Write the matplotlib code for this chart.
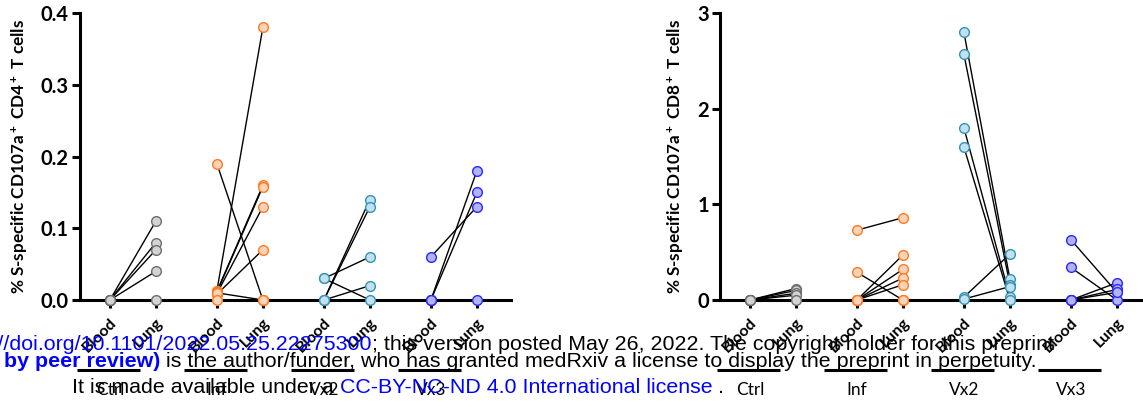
import matplotlib
matplotlib.use("Agg")
import matplotlib.pyplot as plt
from matplotlib.transforms import blended_transform_factory

plt.rcParams["font.family"] = ["Lato", "DejaVu Sans"]
plt.rcParams["mathtext.fontset"] = "custom"
plt.rcParams["mathtext.default"] = "regular"

# ---- data -------------------------------------------------------------
groups = ["Ctrl", "Inf", "Vx2", "Vx3"]
tissues = ["Blood", "Lung"]

face_colors = ["#d3d3d3", "#ffd3b8", "#c2e0f4", "#b2b2ff"]
edge_colors = ["#6e6e6e", "#ff7a22", "#3294b0", "#2828ff"]

# CD4: paired blood / lung values per animal
cd4_ctrl_blood = [0.0, 0.0, 0.0, 0.0, 0.0]
cd4_ctrl_lung = [0.11, 0.08, 0.07, 0.04, 0.0]
cd4_inf_blood = [0.19, 0.013, 0.012, 0.011, 0.009, 0.008, 0.010, 0.0]
cd4_inf_lung = [0.0, 0.38, 0.16, 0.158, 0.13, 0.07, 0.0, 0.0]
cd4_vx2_blood = [0.03, 0.03, 0.0, 0.0, 0.0]
cd4_vx2_lung = [0.06, 0.0, 0.14, 0.13, 0.02]
cd4_vx3_blood = [0.06, 0.0, 0.0, 0.0]
cd4_vx3_lung = [0.13, 0.18, 0.15, 0.0]

# CD8: paired blood / lung values per animal
cd8_ctrl_blood = [0.0, 0.0, 0.0, 0.0, 0.0]
cd8_ctrl_lung = [0.12, 0.10, 0.07, 0.05, 0.0]
cd8_inf_blood = [0.73, 0.29, 0.0, 0.0, 0.0, 0.0, 0.0]
cd8_inf_lung = [0.86, 0.0, 0.47, 0.32, 0.23, 0.16, 0.0]
cd8_vx2_blood = [2.80, 2.57, 1.80, 1.60, 0.03, 0.01]
cd8_vx2_lung = [0.22, 0.16, 0.035, 0.0, 0.48, 0.14]
cd8_vx3_blood = [0.63, 0.34, 0.0, 0.0, 0.0]
cd8_vx3_lung = [0.08, 0.0, 0.18, 0.11, 0.08]

cd4_pairs = [(cd4_ctrl_blood, cd4_ctrl_lung), (cd4_inf_blood, cd4_inf_lung),
             (cd4_vx2_blood, cd4_vx2_lung), (cd4_vx3_blood, cd4_vx3_lung)]
cd8_pairs = [(cd8_ctrl_blood, cd8_ctrl_lung), (cd8_inf_blood, cd8_inf_lung),
             (cd8_vx2_blood, cd8_vx2_lung), (cd8_vx3_blood, cd8_vx3_lung)]

cd4_ticks = [0.0, 0.1, 0.2, 0.3, 0.4]
cd4_ticklabels = ["0.0", "0.1", "0.2", "0.3", "0.4"]
cd8_ticks = [0, 1, 2, 3]
cd8_ticklabels = ["0", "1", "2", "3"]

cd4_label = r"% S-specific CD107a$^+$ CD4$^+$ T cells"
cd8_label = r"% S-specific CD107a$^+$ CD8$^+$ T cells"

# ---- figure -------------------------------------------------------------
W, H = 1143, 409
fig = plt.figure(figsize=(W / 100, H / 100), dpi=100)

group_step = 2.326
blood_pos = [g * group_step for g in range(4)]


def panel(left_px, pairs, ticks, ticklabels, ylabel):
    ax = fig.add_axes([left_px / W, 1 - 300 / H, 431 / W, 287 / H])
    for gi, (blood, lung) in enumerate(pairs):
        xb = blood_pos[gi]
        xl = xb + 1
        for b, l in zip(blood, lung):
            ax.plot([xb, xl], [b, l], color="black", lw=1.0, zorder=2,
                    clip_on=False, solid_capstyle="butt")
        ax.plot([xb] * len(blood), blood, "o", ms=7, mfc=face_colors[gi],
                mec=edge_colors[gi], mew=1.0, ls="none", zorder=3, clip_on=False)
        ax.plot([xl] * len(lung), lung, "o", ms=7, mfc=face_colors[gi],
                mec=edge_colors[gi], mew=1.0, ls="none", zorder=3, clip_on=False)

    ax.set_xlim(-0.65, 8.72)
    ax.set_ylim(ticks[0], ticks[-1])
    ax.spines["top"].set_visible(False)
    ax.spines["right"].set_visible(False)
    for s in ("left", "bottom"):
        ax.spines[s].set_linewidth(2.2)
        ax.spines[s].set_zorder(1)
    ax.set_yticks(ticks)
    ax.set_yticklabels(ticklabels, fontsize=14.5, fontweight="bold")
    xt = []
    for xb in blood_pos:
        xt += [xb, xb + 1]
    ax.set_xticks(xt)
    ax.set_xticklabels(tissues * 4, rotation=45, ha="right", va="top",
                       rotation_mode="anchor", fontsize=11.5, fontweight="bold")
    ax.tick_params(axis="both", direction="out", width=2.2, length=6, pad=2)
    ax.tick_params(axis="x", pad=5)
    ax.set_ylabel(ylabel, fontsize=12.3, fontweight="bold", labelpad=8)

    trans = blended_transform_factory(ax.transData, ax.transAxes)
    for gi, xb in enumerate(blood_pos):
        ax.plot([xb - 0.72, xb + 0.66], [-0.244, -0.244], color="black",
                lw=2.2, transform=trans, clip_on=False, solid_capstyle="butt")
        ax.text(xb, -0.314, groups[gi], transform=trans, ha="center",
                va="center", fontsize=12.5)
    return ax


panel(80, cd4_pairs, cd4_ticks, cd4_ticklabels, cd4_label)
panel(720, cd8_pairs, cd8_ticks, cd8_ticklabels, cd8_label)

# ---- medRxiv license banner --------------------------------------------
blue = "#0000ff"
wm = dict(family=["Liberation Sans", "DejaVu Sans"], fontsize=15.4, va="baseline",
          zorder=10)
renderer = fig.canvas.get_renderer()


def chain(x_px, y_px, pieces, anchor="left"):
    """Write consecutive text pieces on one baseline starting at x_px."""
    if anchor == "right":
        color, weight, s = pieces[0]
        t = fig.text(x_px / W, 1 - y_px / H, s, color=color, weight=weight,
                     ha="right", **wm)
        x = t.get_window_extent(renderer).x1
        pieces = pieces[1:]
    else:
        x = x_px
    for color, weight, s in pieces:
        t = fig.text(x / W, 1 - y_px / H, s, color=color, weight=weight,
                     ha="left", **wm)
        x = t.get_window_extent(renderer).x1


chain(372, 350, [(blue, "normal", "https://doi.org/10.1101/2022.05.25.22275300"),
                 ("black", "normal",
                  "; this version posted May 26, 2022. The copyright holder for this preprint")],
      anchor="right")
chain(160, 367, [(blue, "bold", "(which was not certified by peer review)"),
                 ("black", "normal",
                  " is the author/funder, who has granted medRxiv a license to display the preprint in perpetuity.")],
      anchor="right")
chain(72, 393, [("black", "normal", "It is made available under a "),
                (blue, "normal", "CC-BY-NC-ND 4.0 International license"),
                ("black", "normal", " .")])

fig.savefig("out.png", dpi=100)
